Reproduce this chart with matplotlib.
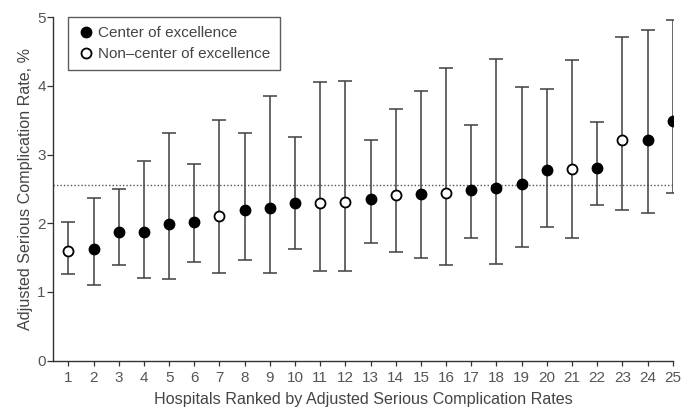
import matplotlib
matplotlib.use("Agg")
import matplotlib.pyplot as plt
from matplotlib.lines import Line2D

plt.rcParams['font.family'] = ['Liberation Sans', 'DejaVu Sans']

hospitals = list(range(1, 26))
rates = [1.60, 1.63, 1.87, 1.87, 1.99, 2.02, 2.10, 2.20, 2.22, 2.29, 2.30, 2.31, 2.35,
         2.41, 2.42, 2.44, 2.48, 2.51, 2.57, 2.78, 2.79, 2.81, 3.22, 3.22, 3.49]
lower = [1.26, 1.10, 1.39, 1.20, 1.19, 1.43, 1.27, 1.46, 1.27, 1.62, 1.30, 1.30, 1.72,
         1.58, 1.49, 1.39, 1.78, 1.41, 1.65, 1.94, 1.78, 2.27, 2.19, 2.15, 2.44]
upper = [2.02, 2.37, 2.50, 2.91, 3.32, 2.86, 3.50, 3.32, 3.86, 3.25, 4.06, 4.07, 3.22,
         3.66, 3.92, 4.26, 3.43, 4.39, 3.98, 3.96, 4.38, 3.48, 4.71, 4.82, 4.96]
center = [False, True, True, True, True, True, False, True, True, True, False, False, True,
          False, True, False, True, True, True, True, False, True, False, True, True]
overall_rate = 2.56

fig = plt.figure(figsize=(6.83, 4.08), dpi=100)
ax = fig.add_axes([0.078, 0.116, 0.907, 0.8417])

err_color = '#3f3f3f'
for x, r, lo, hi, c in zip(hospitals, rates, lower, upper, center):
    ax.errorbar([x], [r], yerr=[[r - lo], [hi - r]], fmt='none', ecolor=err_color,
                elinewidth=1.1, capsize=5, capthick=1.1, zorder=2)
    ax.plot([x], [r], 'o', markersize=7.2, markerfacecolor='black' if c else 'white',
            markeredgecolor='black', markeredgewidth=1.3, zorder=3)

ax.axhline(overall_rate, color='#555555', linestyle=(0, (1, 1.5)), linewidth=1.0, zorder=1)

ax.set_xlim(0.4, 25)
ax.set_ylim(0, 5)
ax.set_xticks(hospitals)
ax.set_yticks([0, 1, 2, 3, 4, 5])
for s in ['top', 'right']:
    ax.spines[s].set_visible(False)
for s in ['left', 'bottom']:
    ax.spines[s].set_linewidth(1.0)
    ax.spines[s].set_color('#333333')
ax.tick_params(axis='both', direction='out', width=0.9, color='#333333',
               labelsize=11, labelcolor='#555555')
ax.tick_params(axis='x', length=3.3, pad=4)
ax.tick_params(axis='y', length=4, pad=1.5)

ax.set_xlabel('Hospitals Ranked by Adjusted Serious Complication Rates', fontsize=11.6,
              color='#444444', labelpad=5.5)
ax.set_ylabel('Adjusted Serious Complication Rate, %', fontsize=11.6, color='#444444',
              labelpad=3)

handles = [
    Line2D([], [], linestyle='none', marker='o', markersize=7.2, markerfacecolor='black',
           markeredgecolor='black', markeredgewidth=1.3),
    Line2D([], [], linestyle='none', marker='o', markersize=7.2, markerfacecolor='white',
           markeredgecolor='black', markeredgewidth=1.3),
]
leg = ax.legend(handles, ['Center of excellence', 'Non–center of excellence'],
                loc='upper left', bbox_to_anchor=(0.0245, 1.0), fontsize=11,
                frameon=True, fancybox=False, handletextpad=0.25, handlelength=1.1,
                borderpad=0.6, labelspacing=0.45, borderaxespad=0)
leg.get_frame().set_edgecolor('#333333')
leg.get_frame().set_linewidth(1.0)
for t in leg.get_texts():
    t.set_color('#444444')

fig.savefig('out.png', dpi=100)
